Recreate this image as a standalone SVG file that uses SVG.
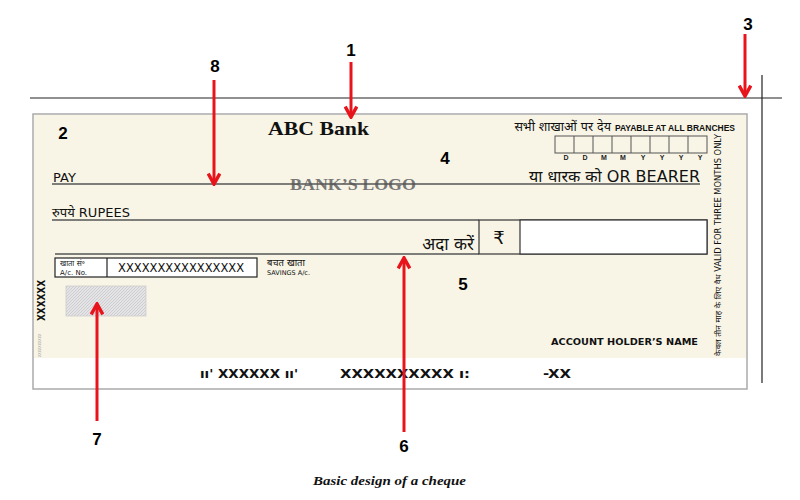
<svg xmlns="http://www.w3.org/2000/svg" width="800" height="500" viewBox="0 0 800 500">
<defs>
<style>
.num{font-family:"Liberation Sans",Arial,sans-serif;font-weight:bold;font-size:17px;fill:#000}
.sans{font-family:"DejaVu Sans","Noto Sans Devanagari","Liberation Sans",sans-serif;fill:#111}
.blk{font-family:"DejaVu Sans","Liberation Sans",Arial,sans-serif;font-weight:bold;fill:#111}
.ser{font-family:"Liberation Serif","DejaVu Serif",serif}
.arrow{stroke:#e8141b;stroke-width:3;fill:none;marker-end:url(#ah)}
.rule{stroke:#555;stroke-width:1.5}
</style>
<marker id="ah" viewBox="0 0 12 12" refX="10" refY="6" markerWidth="14" markerHeight="14" markerUnits="userSpaceOnUse" orient="auto">
<path d="M1,1 L10,6 L1,11" fill="none" stroke="#e8141b" stroke-width="3"/>
</marker>
<pattern id="hatch" width="3" height="3" patternUnits="userSpaceOnUse">
<rect width="3" height="3" fill="#e4e4e6"/>
<path d="M0,3 L3,0" stroke="#c4c4c8" stroke-width="0.7"/>
</pattern>
</defs>
<rect width="800" height="500" fill="#fff"/>

<!-- cut guide lines -->
<line x1="30" y1="98" x2="782" y2="98" stroke="#222" stroke-width="1.2"/>
<line x1="762" y1="75" x2="762" y2="383" stroke="#222" stroke-width="1.2"/>

<!-- cheque body -->
<g id="cheque">
<rect x="33" y="114" width="714" height="275" fill="#fff" stroke="#aaa" stroke-width="1.5"/>
<rect x="34" y="115" width="712" height="243" fill="#f8f5e6"/>
<text x="268" y="135" class="ser" font-weight="bold" font-size="19" fill="#111" textLength="101" lengthAdjust="spacingAndGlyphs">ABC Bank</text>
<text x="735" y="131" text-anchor="end" class="sans"><tspan font-size="12.5">सभी शाखाओं पर देय </tspan><tspan font-family="Liberation Sans,Arial,sans-serif" font-weight="bold" font-size="8.5">PAYABLE AT ALL BRANCHES</tspan></text>
<g id="date" fill="none" stroke="#555" stroke-width="1">
<rect x="555" y="136" width="152" height="17"/>
<line x1="574" y1="136" x2="574" y2="153"/><line x1="593" y1="136" x2="593" y2="153"/><line x1="612" y1="136" x2="612" y2="153"/><line x1="631" y1="136" x2="631" y2="153"/><line x1="650" y1="136" x2="650" y2="153"/><line x1="669" y1="136" x2="669" y2="153"/><line x1="688" y1="136" x2="688" y2="153"/>
</g>
<g font-family="Liberation Sans,Arial,sans-serif" font-weight="bold" font-size="7" fill="#222" text-anchor="middle">
<text x="566" y="160">D</text><text x="585" y="160">D</text><text x="604" y="160">M</text><text x="623" y="160">M</text><text x="643" y="160">Y</text><text x="662" y="160">Y</text><text x="681" y="160">Y</text><text x="700" y="160">Y</text>
</g>
<text x="53" y="182" class="sans" font-size="13">PAY</text>
<text x="290" y="190" class="ser" font-weight="bold" font-size="16" fill="#777" textLength="126" lengthAdjust="spacingAndGlyphs">BANK’S LOGO</text>
<line x1="52" y1="184" x2="700" y2="184" class="rule"/>
<text x="700" y="182" text-anchor="end" class="sans" font-size="16">या धारक को OR BEARER</text>
<text x="52" y="217" class="sans" font-size="13">रुपये RUPEES</text>
<line x1="52" y1="220" x2="479" y2="220" class="rule"/>
<line x1="55" y1="254" x2="479" y2="254" class="rule"/>
<text x="474" y="250" text-anchor="end" class="sans" font-size="17">अदा करें</text>
<g id="amount">
<rect x="479" y="220" width="228" height="34" fill="#f8f5e6" stroke="#333" stroke-width="1.2"/>
<rect x="520" y="220" width="187" height="34" fill="#fff" stroke="#333" stroke-width="1.2"/>
<text x="499" y="244" text-anchor="middle" class="sans" font-size="18">₹</text>
</g>
<g id="acno">
<rect x="55" y="258" width="202" height="19" fill="#fff" stroke="#222" stroke-width="1.2"/>
<line x1="107" y1="258" x2="107" y2="277" stroke="#222" stroke-width="1.2"/>
<text x="60" y="266" class="sans" font-size="7.5">खाता सं॰</text>
<text x="60" y="275" class="sans" font-size="7">A/c. No.</text>
<text x="118" y="272" class="sans" font-size="11.5">XXXXXXXXXXXXXXXX</text>
</g>
<text x="267" y="266" class="sans" font-size="9.5">बचत खाता</text>
<text x="267" y="275" class="sans" font-size="6.5">SAVINGS A/c.</text>
<rect id="sig" x="66" y="286" width="80" height="30" fill="url(#hatch)" stroke="#ccc" stroke-width="0.8"/>
<text transform="translate(45,321) rotate(-90)" class="blk" font-size="10" textLength="41" lengthAdjust="spacingAndGlyphs">XXXXXX</text>
<text transform="translate(41,357) rotate(-90)" font-family="Liberation Sans,sans-serif" font-size="3.5" fill="#888">XXXXXXXXXX</text>
<text x="698" y="345" text-anchor="end" class="blk" font-size="8.5" textLength="147" lengthAdjust="spacingAndGlyphs">ACCOUNT HOLDER’S NAME</text>
<text transform="translate(721,356) rotate(-90)" class="sans" font-size="8.6" textLength="222" lengthAdjust="spacingAndGlyphs">केवल तीन माह के लिए वैध VALID FOR THREE MONTHS ONLY</text>
<g class="blk" font-size="12">
<text x="200" y="378" textLength="98" lengthAdjust="spacingAndGlyphs">ıı' XXXXXX ıı'</text>
<text x="340" y="378" textLength="130" lengthAdjust="spacingAndGlyphs">XXXXXXXXXX ı:</text>
<text x="543" y="378" textLength="28" lengthAdjust="spacingAndGlyphs">-XX</text>
</g>
</g>

<g id="labels">
<text x="351" y="56" text-anchor="middle" class="num">1</text>
<text x="63" y="139" text-anchor="middle" class="num">2</text>
<text x="748" y="30" text-anchor="middle" class="num">3</text>
<text x="445" y="164" text-anchor="middle" class="num">4</text>
<text x="463" y="290" text-anchor="middle" class="num">5</text>
<text x="404" y="452" text-anchor="middle" class="num">6</text>
<text x="97" y="445" text-anchor="middle" class="num">7</text>
<text x="215" y="72" text-anchor="middle" class="num">8</text>
</g>

<g id="connectors">
<line x1="351" y1="62" x2="351" y2="117" class="arrow"/>
<line x1="214" y1="80" x2="214" y2="184" class="arrow"/>
<line x1="745" y1="34" x2="745" y2="96" class="arrow"/>
<line x1="404" y1="432" x2="404" y2="258" class="arrow"/>
<line x1="97" y1="421" x2="97" y2="304" class="arrow"/>
</g>

<text x="313" y="485" font-family="Liberation Serif,DejaVu Serif,serif" font-weight="bold" font-style="italic" font-size="13" fill="#111" textLength="153" lengthAdjust="spacingAndGlyphs">Basic design of a cheque</text>
</svg>
